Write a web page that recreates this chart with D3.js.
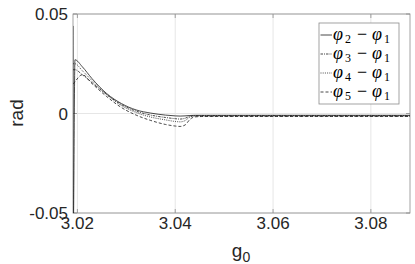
<!DOCTYPE html>
<html>
<head>
<meta charset="utf-8">
<script src="https://cdn.jsdelivr.net/npm/d3@7"></script>
<style>
  body { margin: 0; background: white; }
  svg { display: block; }
</style>
</head>
<body>
<div id="chart"></div>
<script>
const width = 415
const height = 264

// data
const g0 = [3.0191, 3.01915, 3.0195, 3.021, 3.023, 3.026, 3.029, 3.032, 3.035, 3.038, 3.040, 3.041, 3.042, 3.043, 3.044, 3.046, 3.050, 3.060, 3.070, 3.080, 3.088]
const phi21 = [0.044, -0.06, 0.027, 0.0235, 0.0175, 0.0100, 0.0050, 0.0018, 0.0002, -0.0008, -0.0012, -0.0013, -0.0012, -0.0010, -0.0009, -0.0009, -0.0009, -0.0009, -0.0009, -0.0009, -0.0009]
const phi31 = [0.022, 0.022, 0.022, 0.0195, 0.0155, 0.0095, 0.0045, 0.0012, -0.0008, -0.0020, -0.0026, -0.0028, -0.0024, -0.0014, -0.0011, -0.0011, -0.0011, -0.0011, -0.0011, -0.0011, -0.0011]
const phi41 = [0.025, 0.025, 0.025, 0.0215, 0.0165, 0.0095, 0.0040, 0.0005, -0.0018, -0.0032, -0.0040, -0.0042, -0.0036, -0.0018, -0.0013, -0.0013, -0.0013, -0.0013, -0.0013, -0.0013, -0.0013]
const phi51 = [0.015, 0.015, 0.016, 0.0195, 0.0150, 0.0085, 0.0030, -0.0008, -0.0035, -0.0055, -0.0063, -0.0065, -0.0058, -0.0030, -0.0017, -0.0015, -0.0015, -0.0015, -0.0015, -0.0015, -0.0015]

const seriesNames = ["2", "3", "4", "5"]
const seriesValues = [phi21, phi31, phi41, phi51]
const dashes = ["none", "2.5,1,1,1", "1,1.2", "3,2"]

const xTicks = [3.02, 3.04, 3.06, 3.08]
const yTicks = [-0.05, 0, 0.05]

const margin = {left: 73, top: 14, right: 5, bottom: 51}

const svg = d3.select("#chart").append("svg")
    .attr("width", width)
    .attr("height", height)

const x = d3.scaleLinear()
    .domain([3.0191, 3.0880])
    .range([margin.left, width - margin.right])

const y = d3.scaleLinear()
    .domain([-0.05, 0.05])
    .range([height - margin.bottom, margin.top])

// grid
svg.append("g")
    .selectAll("line")
    .data(xTicks)
    .join("line")
    .attr("x1", d => x(d)).attr("x2", d => x(d))
    .attr("y1", y(-0.05)).attr("y2", y(0.05))
    .attr("stroke", "#e6e6e6")

svg.append("g")
    .selectAll("line")
    .data(yTicks)
    .join("line")
    .attr("x1", x.range()[0]).attr("x2", x.range()[1])
    .attr("y1", d => y(d)).attr("y2", d => y(d))
    .attr("stroke", "#e6e6e6")

// box
svg.append("rect")
    .attr("x", x.range()[0])
    .attr("y", y(0.05))
    .attr("width", x.range()[1] - x.range()[0])
    .attr("height", y(-0.05) - y(0.05))
    .attr("fill", "none")
    .attr("stroke", "#8c8c8c")
    .attr("stroke-width", 0.8)

// inward ticks
const tickLen = 4
svg.append("g").selectAll("line").data(xTicks).join("line")
    .attr("x1", d => x(d)).attr("x2", d => x(d))
    .attr("y1", y(-0.05)).attr("y2", y(-0.05) - tickLen)
    .attr("stroke", "#8c8c8c").attr("stroke-width", 0.8)
svg.append("g").selectAll("line").data(xTicks).join("line")
    .attr("x1", d => x(d)).attr("x2", d => x(d))
    .attr("y1", y(0.05)).attr("y2", y(0.05) + tickLen)
    .attr("stroke", "#8c8c8c").attr("stroke-width", 0.8)
svg.append("g").selectAll("line").data(yTicks).join("line")
    .attr("x1", x.range()[0]).attr("x2", x.range()[0] + tickLen)
    .attr("y1", d => y(d)).attr("y2", d => y(d))
    .attr("stroke", "#8c8c8c").attr("stroke-width", 0.8)
svg.append("g").selectAll("line").data(yTicks).join("line")
    .attr("x1", x.range()[1]).attr("x2", x.range()[1] - tickLen)
    .attr("y1", d => y(d)).attr("y2", d => y(d))
    .attr("stroke", "#8c8c8c").attr("stroke-width", 0.8)

// tick labels
svg.append("g").selectAll("text").data(xTicks).join("text")
    .attr("x", d => x(d))
    .attr("y", 229)
    .attr("text-anchor", "middle")
    .attr("font-family", "Liberation Sans, Arial, sans-serif")
    .attr("font-size", 17)
    .attr("fill", "#262626")
    .text(d => d.toFixed(2))

svg.append("g").selectAll("text").data(yTicks).join("text")
    .attr("x", 68)
    .attr("y", d => y(d) + 6)
    .attr("text-anchor", "end")
    .attr("font-family", "Liberation Sans, Arial, sans-serif")
    .attr("font-size", 17)
    .attr("fill", "#262626")
    .text(d => d === 0 ? "0" : d.toFixed(2))

// axis titles
const xlab = svg.append("text")
    .attr("x", 241)
    .attr("y", 257)
    .attr("text-anchor", "middle")
    .attr("font-family", "Liberation Sans, Arial, sans-serif")
    .attr("font-size", 19)
    .attr("fill", "#262626")
xlab.append("tspan").text("g")
xlab.append("tspan").attr("dy", 5).attr("font-size", 14).text("0")

svg.append("text")
    .attr("transform", "translate(23,113) rotate(-90)")
    .attr("text-anchor", "middle")
    .attr("font-family", "Liberation Sans, Arial, sans-serif")
    .attr("font-size", 19)
    .attr("fill", "#262626")
    .text("rad")

// curves
svg.append("clipPath").attr("id", "clip")
    .append("rect")
    .attr("x", x.range()[0])
    .attr("y", y(0.05))
    .attr("width", x.range()[1] - x.range()[0])
    .attr("height", y(-0.05) - y(0.05))

const line = d3.line()
    .x(d => x(d[0]))
    .y(d => y(d[1]))
    .curve(d3.curveMonotoneX)

svg.append("g")
    .attr("clip-path", "url(#clip)")
    .selectAll("path")
    .data(seriesValues)
    .join("path")
    .attr("d", vals => line(g0.map((g, i) => [g, vals[i]])))
    .attr("fill", "none")
    .attr("stroke", "#1a1a1a")
    .attr("stroke-width", 0.8)
    .attr("stroke-dasharray", (d, i) => dashes[i])

// legend
const legend = svg.append("g")
legend.append("rect")
    .attr("x", 319).attr("y", 23)
    .attr("width", 80).attr("height", 81)
    .attr("fill", "white")
    .attr("stroke", "#8c8c8c")
    .attr("stroke-width", 0.8)

const rows = legend.selectAll(".row")
    .data(seriesNames)
    .join("g")
    .attr("class", "row")
    .attr("transform", (d, i) => `translate(0, ${35 + i * 19})`)

rows.append("line")
    .attr("x1", 320.5).attr("x2", 332)
    .attr("y1", 0).attr("y2", 0)
    .attr("stroke", "#1a1a1a")
    .attr("stroke-width", 0.8)
    .attr("stroke-dasharray", (d, i) => dashes[i])

const lt = rows.append("text")
    .attr("y", 5)
    .attr("font-family", "Liberation Serif, DejaVu Serif, serif")
    .attr("font-size", 18)
    .attr("fill", "black")
lt.append("tspan").attr("x", 333).attr("font-style", "italic").text("φ")
lt.append("tspan").attr("x", 345).attr("font-size", 12).attr("dy", 3).text(d => d)
lt.append("tspan").attr("x", 357).attr("dy", -3).text("−")
lt.append("tspan").attr("x", 372).attr("font-style", "italic").text("φ")
lt.append("tspan").attr("x", 384).attr("font-size", 12).attr("dy", 3).text("1")
</script>
</body>
</html>
